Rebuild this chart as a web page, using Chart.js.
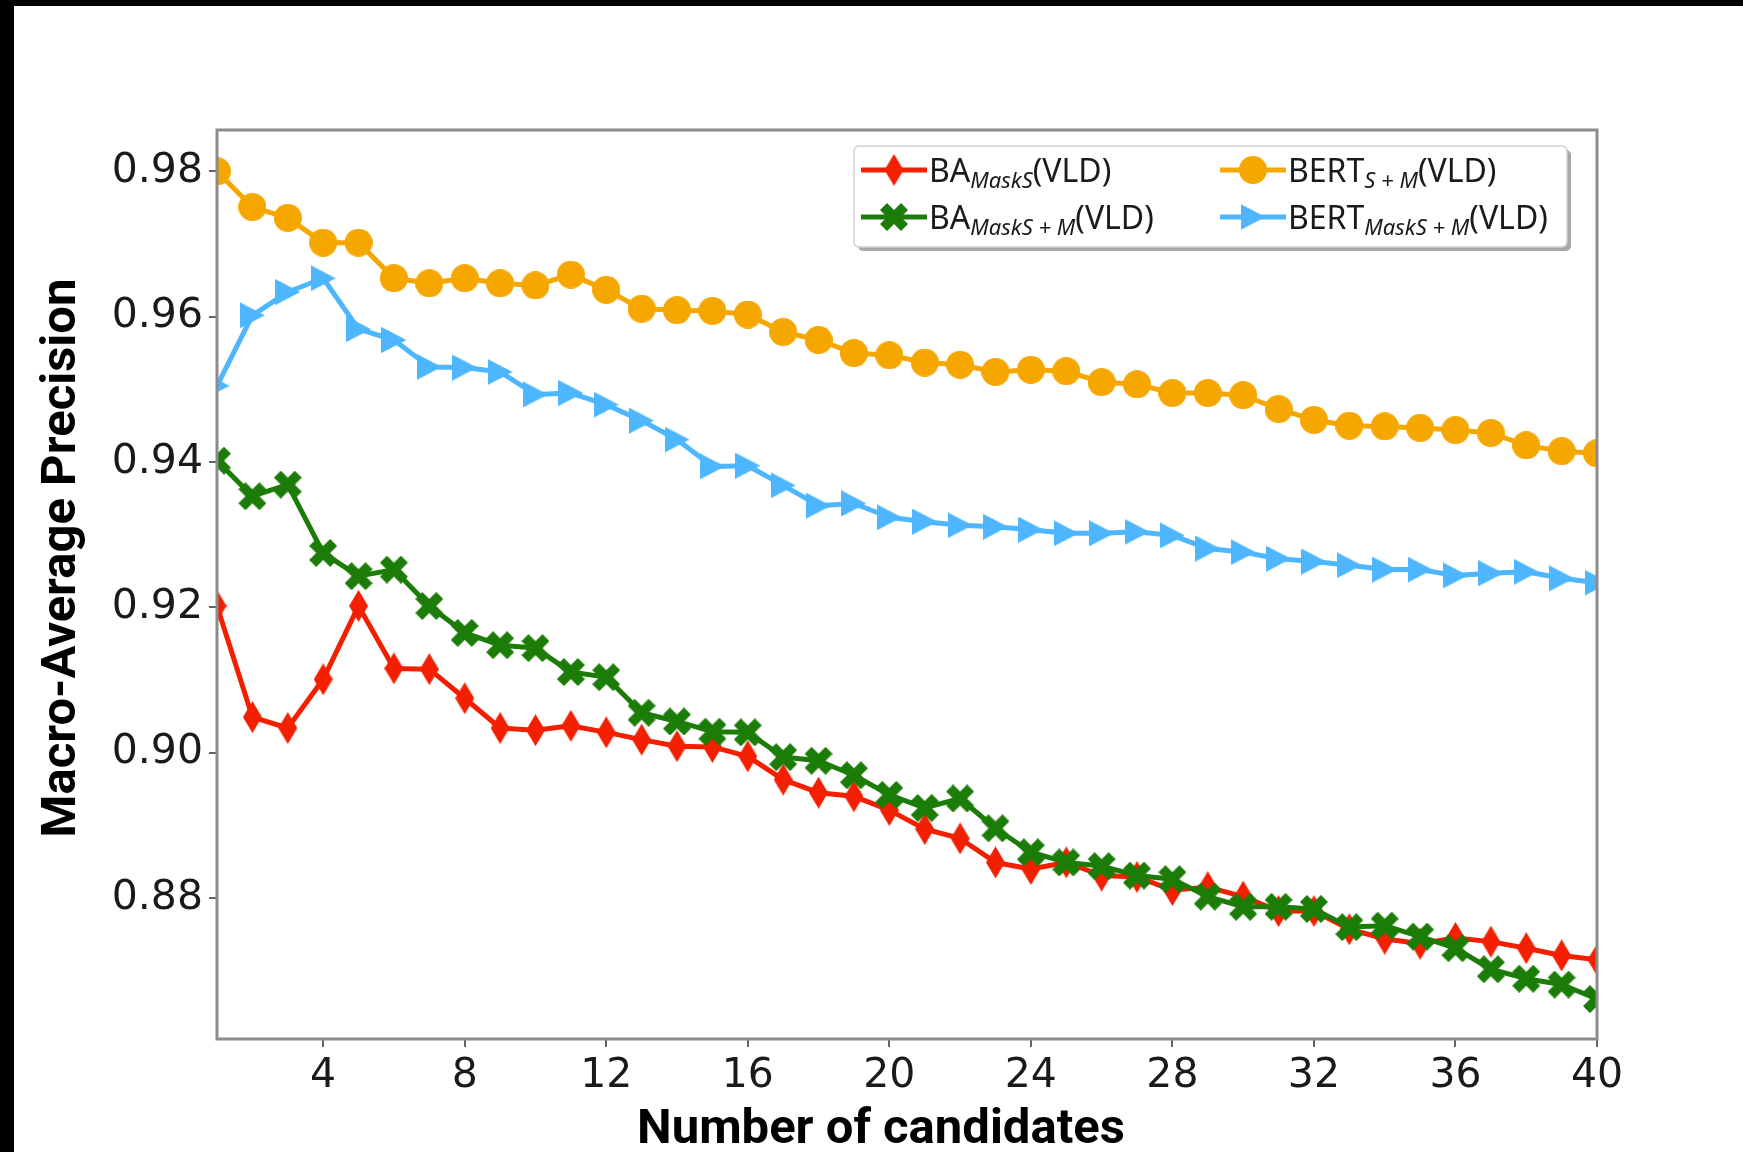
<!DOCTYPE html>
<html>
<head>
<meta charset="utf-8">
<script src="https://cdn.jsdelivr.net/npm/chart.js@4.4.0/dist/chart.umd.min.js"></script>
<style>
  body { margin: 0; background: #000; }
  #wrap { position: absolute; left: 14px; top: 6px; width: 1729px; height: 1146px; background: #fff; }
</style>
</head>
<body>
<div id="wrap"><canvas id="chart" width="1729" height="1146"></canvas></div>
<script>
// x values: number of candidates
const candidates = [1, 2, 3, 4, 5, 6, 7, 8, 9, 10, 11, 12, 13, 14, 15, 16, 17, 18, 19, 20,
                    21, 22, 23, 24, 25, 26, 27, 28, 29, 30, 31, 32, 33, 34, 35, 36, 37, 38, 39, 40];

const baMaskS = [0.9202, 0.9049, 0.9034, 0.9101, 0.9202, 0.9116, 0.9115, 0.9075, 0.9034, 0.9031,
                 0.9037, 0.9028, 0.9018, 0.9009, 0.9008, 0.8995, 0.8963, 0.8945, 0.8940, 0.8921,
                 0.8895, 0.8882, 0.8849, 0.8840, 0.8849, 0.8831, 0.8829, 0.8811, 0.8815, 0.8802,
                 0.8782, 0.8782, 0.8757, 0.8744, 0.8737, 0.8745, 0.8740, 0.8731, 0.8721, 0.8715];

const baMaskSM = [0.9402, 0.9353, 0.9369, 0.9275, 0.9243, 0.9252, 0.9202, 0.9165, 0.9148, 0.9144,
                  0.9111, 0.9104, 0.9055, 0.9043, 0.9029, 0.9028, 0.8994, 0.8989, 0.8969, 0.8942,
                  0.8924, 0.8937, 0.8896, 0.8863, 0.8849, 0.8844, 0.8831, 0.8826, 0.8802, 0.8788,
                  0.8788, 0.8785, 0.8760, 0.8762, 0.8747, 0.8731, 0.8702, 0.8689, 0.8681, 0.8661];

const bertSM = [0.9800, 0.9751, 0.9736, 0.9702, 0.9702, 0.9653, 0.9646, 0.9653, 0.9646, 0.9643,
                0.9658, 0.9637, 0.9611, 0.9609, 0.9608, 0.9603, 0.9579, 0.9568, 0.9550, 0.9547,
                0.9537, 0.9534, 0.9524, 0.9527, 0.9525, 0.9510, 0.9507, 0.9495, 0.9495, 0.9492,
                0.9473, 0.9458, 0.9450, 0.9449, 0.9447, 0.9444, 0.9440, 0.9423, 0.9415, 0.9412];

const bertMaskSM = [0.9505, 0.9602, 0.9634, 0.9653, 0.9583, 0.9568, 0.9531, 0.9530, 0.9524, 0.9493,
                    0.9495, 0.9479, 0.9457, 0.9431, 0.9394, 0.9395, 0.9368, 0.9340, 0.9343, 0.9324,
                    0.9318, 0.9313, 0.9311, 0.9307, 0.9302, 0.9302, 0.9304, 0.9299, 0.9281, 0.9276,
                    0.9267, 0.9263, 0.9258, 0.9252, 0.9252, 0.9244, 0.9247, 0.9249, 0.9240, 0.9234];

const seriesNames = ['BA', 'BA', 'BERT', 'BERT'];
const seriesSubs = ['MaskS', 'MaskS + M', 'S + M', 'MaskS + M'];
const seriesSuffix = '(VLD)';

const xTicks = [4, 8, 12, 16, 20, 24, 28, 32, 36, 40];
const yTicks = [0.88, 0.90, 0.92, 0.94, 0.96, 0.98];

const xTitle = 'Number of candidates';
const yTitle = 'Macro-Average Precision';

// ---- markers (matplotlib look-alikes) ----
function marker(shape, color, w, h) {
  const c = document.createElement('canvas');
  c.width = w; c.height = h;
  const g = c.getContext('2d');
  g.fillStyle = color;
  g.beginPath();
  if (shape === 'circle') {
    g.arc(w / 2, h / 2, w / 2, 0, Math.PI * 2);
  } else if (shape === 'thinDiamond') {
    g.moveTo(w / 2, 0); g.lineTo(w, h / 2); g.lineTo(w / 2, h); g.lineTo(0, h / 2);
  } else if (shape === 'triRight') {
    g.moveTo(w, h / 2); g.lineTo(0, 0); g.lineTo(0, h);
  } else if (shape === 'xFilled') {
    const pts = [[-1,-3],[1,-3],[1,-1],[3,-1],[3,1],[1,1],[1,3],[-1,3],[-1,1],[-3,1],[-3,-1],[-1,-1]];
    const s = (w / 2) / (4 / Math.SQRT2);
    pts.forEach(([px, py], k) => {
      const rx = (px - py) / Math.SQRT2 * s + w / 2;
      const ry = (px + py) / Math.SQRT2 * s + h / 2;
      k ? g.lineTo(rx, ry) : g.moveTo(rx, ry);
    });
  }
  g.closePath();
  g.fill();
  return c;
}

const colors = ['#f22000', '#1c7c08', '#f5a700', '#4db6ff'];
const markers = [
  marker('thinDiamond', colors[0], 19, 32),
  marker('xFilled', colors[1], 28, 28),
  marker('circle', colors[2], 28, 28),
  marker('triRight', colors[3], 25, 26)
];
const values = [baMaskS, baMaskSM, bertSM, bertMaskSM];

const datasets = values.map((vals, i) => ({
  label: seriesNames[i] + '_' + seriesSubs[i] + seriesSuffix,
  data: candidates.map((x, j) => ({ x: x, y: vals[j] })),
  borderColor: colors[i],
  backgroundColor: colors[i],
  borderWidth: 5,
  borderJoinStyle: 'round',
  pointStyle: markers[i],
  pointRadius: 13,
  pointHoverRadius: 13,
  tension: 0,
  clip: 0,
  order: 4 - i
}));

// frame around the axes, drawn over the lines like matplotlib spines
const framePlugin = {
  id: 'frame',
  afterDatasetsDraw(chart) {
    const { ctx, chartArea: a } = chart;
    ctx.save();
    ctx.strokeStyle = '#8c8c8c';
    ctx.lineWidth = 3;
    ctx.strokeRect(a.left, a.top, a.right - a.left, a.bottom - a.top);
    ctx.restore();
  }
};

// axis titles
const titlePlugin = {
  id: 'axisTitles',
  afterDraw(chart) {
    const { ctx, chartArea: a } = chart;
    ctx.save();
    ctx.fillStyle = '#000';
    ctx.font = 'bold 49px Roboto';
    ctx.textAlign = 'center';
    ctx.textBaseline = 'middle';
    ctx.fillText(chart.options.scales.x.title.text, a.left + 664, a.bottom + 92);
    ctx.translate(a.left - 154, a.top + 428);
    ctx.rotate(-Math.PI / 2);
    ctx.fillText(chart.options.scales.y.title.text, 0, 0);
    ctx.restore();
  }
};

// two-column legend with subscripts
const legendPlugin = {
  id: 'mplLegend',
  afterDraw(chart) {
    const { ctx, chartArea: a } = chart;
    const bw = 713, bh = 101;
    const bx = a.right - 30 - bw, by = a.top + 16;
    ctx.save();
    ctx.fillStyle = '#a8a8a8';
    ctx.beginPath(); ctx.roundRect(bx + 4, by + 4, bw, bh, 5); ctx.fill();
    ctx.fillStyle = '#fff';
    ctx.strokeStyle = '#d0d0d0';
    ctx.lineWidth = 1.5;
    ctx.beginPath(); ctx.roundRect(bx, by, bw, bh, 5); ctx.fill(); ctx.stroke();

    const colX = [7, 366];
    const rowY = [24, 71];
    chart.data.datasets.forEach((ds, i) => {
      const cx = bx + colX[Math.floor(i / 2)];
      const cy = by + rowY[i % 2];
      ctx.strokeStyle = ds.borderColor;
      ctx.lineWidth = 5;
      ctx.beginPath(); ctx.moveTo(cx, cy); ctx.lineTo(cx + 66, cy); ctx.stroke();
      const m = ds.pointStyle;
      ctx.drawImage(m, cx + 33 - m.width / 2, cy - m.height / 2);

      let tx = cx + 68;
      const base = cy + 12;
      ctx.fillStyle = '#1a1a1a';
      ctx.textBaseline = 'alphabetic';
      ctx.textAlign = 'left';
      ctx.font = '32px "Noto Sans"';
      ctx.fillText(seriesNames[i], tx, base);
      tx += ctx.measureText(seriesNames[i]).width;
      ctx.font = 'italic 22px "Noto Sans"';
      ctx.fillText(seriesSubs[i], tx, base + 6);
      tx += ctx.measureText(seriesSubs[i]).width;
      ctx.font = '32px "Noto Sans"';
      ctx.fillText(seriesSuffix, tx, base);
    });
    ctx.restore();
  }
};

const tickFont = { family: 'DejaVu Sans', size: 41 };

new Chart(document.getElementById('chart'), {
  type: 'line',
  data: { datasets: datasets },
  options: {
    responsive: false,
    animation: false,
    devicePixelRatio: 1,
    layout: { padding: { left: 0, top: 124, right: 146, bottom: 0 } },
    plugins: { legend: { display: false }, tooltip: { enabled: false } },
    scales: {
      x: {
        type: 'linear',
        min: 1,
        max: 40,
        afterBuildTicks: s => { s.ticks = xTicks.map(v => ({ value: v })); },
        afterFit: s => { s.height = 113; },
        grid: { drawOnChartArea: false, drawTicks: true, tickLength: 8, color: '#666', lineWidth: 2 },
        border: { display: false },
        ticks: { font: tickFont, color: '#1a1a1a', padding: 5, maxRotation: 0, autoSkip: false },
        title: { display: false, text: xTitle }
      },
      y: {
        type: 'linear',
        min: 0.8606,
        max: 0.9857,
        afterBuildTicks: s => { s.ticks = yTicks.map(v => ({ value: v })); },
        afterFit: s => { s.width = 203; },
        grid: { drawOnChartArea: false, drawTicks: true, tickLength: 8, color: '#666', lineWidth: 2 },
        border: { display: false },
        ticks: { font: tickFont, color: '#1a1a1a', padding: 6, autoSkip: false,
                 callback: v => Number(v).toFixed(2) },
        title: { display: false, text: yTitle }
      }
    }
  },
  plugins: [framePlugin, titlePlugin, legendPlugin]
});
</script>
</body>
</html>
